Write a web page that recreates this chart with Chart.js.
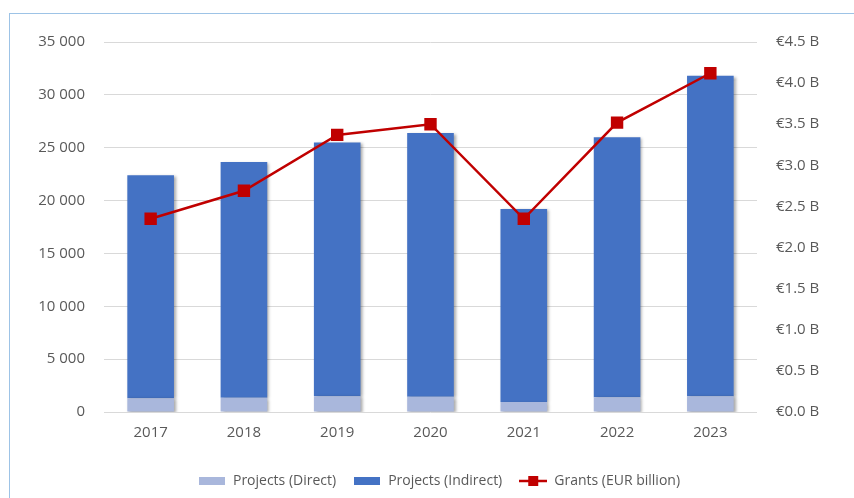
<!DOCTYPE html>
<html>
<head>
<meta charset="utf-8">
<script src="https://cdn.jsdelivr.net/npm/chart.js@4/dist/chart.umd.min.js"></script>
<style>
  html, body { margin: 0; padding: 0; background: #fff; overflow: hidden; }
  #wrap { position: relative; width: 854px; height: 498px; }
  #frame { position: absolute; left: 9px; top: 13px; width: 900px; height: 600px;
           border: 1.5px solid #9DC3E6; pointer-events: none; }
</style>
</head>
<body>
<div id="wrap">
  <canvas id="chart" width="854" height="498"></canvas>
  <div id="frame"></div>
</div>
<script>
// données
const annees    = ['2017', '2018', '2019', '2020', '2021', '2022', '2023'];
const direct    = [1300, 1350, 1500, 1450, 950, 1400, 1500];
const indirect  = [21100, 22300, 24000, 24950, 18250, 24600, 30300];
const subventions = [2.35, 2.69, 3.37, 3.50, 2.35, 3.52, 4.12];

const C_DIRECT   = '#A9B7DC';
const C_INDIRECT = '#4472C4';
const C_GRANTS   = '#C00000';
const TEXTE      = '#595959';
const POLICE     = "'Open Sans', sans-serif";

// petites images pour la légende
function boite(couleur) {
  const c = document.createElement('canvas');
  c.width = 26; c.height = 8;
  const g = c.getContext('2d');
  g.fillStyle = couleur;
  g.fillRect(0, 0, 26, 8);
  return c;
}
function ligneMarqueur(couleur) {
  const c = document.createElement('canvas');
  c.width = 28; c.height = 10;
  const g = c.getContext('2d');
  g.strokeStyle = couleur; g.lineWidth = 2.5;
  g.beginPath(); g.moveTo(0, 5); g.lineTo(28, 5); g.stroke();
  g.fillStyle = couleur;
  g.fillRect(9, 0, 10, 10);
  return c;
}
const iconesLegende = [boite(C_DIRECT), boite(C_INDIRECT), ligneMarqueur(C_GRANTS)];

// ombre portée des barres
const ombreBarres = {
  id: 'ombreBarres',
  beforeDatasetDraw(chart, args) {
    if (args.meta.type !== 'bar') return;
    const ctx = chart.ctx;
    ctx.save();
    ctx.shadowColor = 'rgba(0,0,0,0.35)';
    ctx.shadowBlur = 3;
    ctx.shadowOffsetX = 2;
    ctx.shadowOffsetY = 1;
  },
  afterDatasetDraw(chart, args) {
    if (args.meta.type !== 'bar') return;
    chart.ctx.restore();
  }
};

function espaceMilliers(v) {
  return String(v).replace(/\B(?=(\d{3})+(?!\d))/g, ' ');
}

new Chart(document.getElementById('chart'), {
  type: 'bar',
  data: {
    labels: annees,
    datasets: [
      {
        label: 'Projects (Direct)',
        data: direct,
        backgroundColor: C_DIRECT,
        yAxisID: 'y',
        order: 1,
        barPercentage: 0.5,
        categoryPercentage: 1
      },
      {
        label: 'Projects (Indirect)',
        data: indirect,
        backgroundColor: C_INDIRECT,
        yAxisID: 'y',
        order: 1,
        barPercentage: 0.5,
        categoryPercentage: 1
      },
      {
        type: 'line',
        label: 'Grants (EUR billion)',
        data: subventions,
        borderColor: C_GRANTS,
        backgroundColor: C_GRANTS,
        borderWidth: 2.5,
        pointStyle: 'rect',
        pointRadius: 7,
        pointHoverRadius: 7,
        tension: 0,
        yAxisID: 'y1',
        order: 0
      }
    ]
  },
  options: {
    responsive: false,
    animation: false,
    // marge gauche compensée par la largeur de l'axe : recentre la légende
    layout: { padding: { top: 42, bottom: 0, left: 24, right: 0 } },
    plugins: {
      tooltip: { enabled: false },
      legend: {
        position: 'bottom',
        labels: {
          color: TEXTE,
          font: { family: POLICE, size: 14 },
          usePointStyle: true,
          pointStyleWidth: 28,
          padding: 17,
          sort: (a, b) => a.datasetIndex - b.datasetIndex,
          generateLabels(chart) {
            const items = Chart.defaults.plugins.legend.labels.generateLabels(chart);
            items.forEach(it => { it.pointStyle = iconesLegende[it.datasetIndex]; });
            return items;
          }
        }
      }
    },
    scales: {
      x: {
        stacked: true,
        grid: { display: false },
        border: { display: false },
        ticks: { color: TEXTE, font: { family: POLICE, size: 15 }, padding: 4 },
        afterFit: axe => { axe.height = 45; }
      },
      y: {
        stacked: true,
        position: 'left',
        min: 0, max: 35000,
        grid: { color: '#D9D9D9', drawTicks: false },
        border: { display: false },
        ticks: {
          stepSize: 5000,
          color: TEXTE,
          padding: 19,
          font: { family: POLICE, size: 15 },
          callback: v => espaceMilliers(v)
        },
        afterFit: axe => { axe.width = 80; }
      },
      y1: {
        position: 'right',
        min: 0, max: 4.5,
        grid: { display: false, drawTicks: false },
        border: { display: false },
        ticks: {
          stepSize: 0.5,
          color: TEXTE,
          padding: 19,
          font: { family: POLICE, size: 15 },
          callback: v => '€' + v.toFixed(1) + ' B'
        },
        afterFit: axe => { axe.width = 97; }
      }
    }
  },
  plugins: [ombreBarres]
});
</script>
</body>
</html>
